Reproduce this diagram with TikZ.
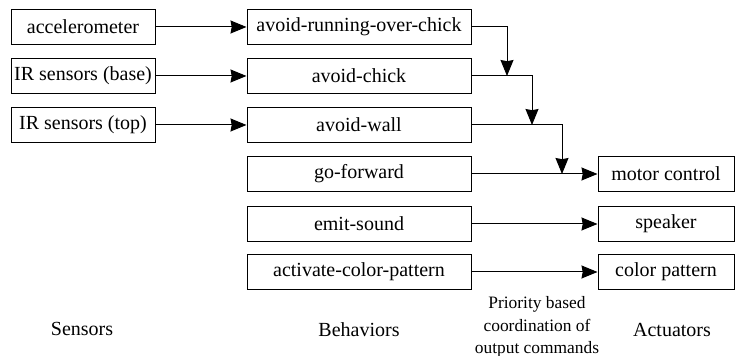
\documentclass[tikz,border=0pt]{standalone}
\usepackage{fontspec}
\setmainfont{Liberation Serif}
\usepackage{tikz}
\usetikzlibrary{arrows.meta}

\begin{document}
\begin{tikzpicture}[x=0.5pt,y=-0.5pt,line width=0.5pt,
  >={Stealth[length=8pt,width=6.5pt,inset=0.6pt]},
  box/.style={draw,inner sep=1pt,minimum height=17.5pt},
  sensorbox/.style={box,minimum width=72pt},
  behavbox/.style={box,minimum width=112pt},
  actbox/.style={box,minimum width=68pt}]
	\useasboundingbox (0,0) rectangle (735,356);
	% sensors
	\node[sensorbox] (acc) at (83,27) {accelerometer};
	\node[sensorbox] (irbase) at (83,76) {IR sensors (base)};
	\node[sensorbox] (irtop) at (83,125) {IR sensors (top)};
	% behaviors
	\node[behavbox] (avoidrun) at (359,27) {avoid-running-over-chick};
	\node[behavbox] (avoidchick) at (359,76) {avoid-chick};
	\node[behavbox] (avoidwall) at (359,125) {avoid-wall};
	\node[behavbox] (goforward) at (359,174) {go-forward};
	\node[behavbox] (emitsound) at (359,224) {emit-sound};
	\node[behavbox] (activate) at (359,272) {activate-color-pattern};
	% actuators
	\node[actbox] (motor) at (666,174) {motor control};
	\node[actbox] (speaker) at (666,224) {speaker};
	\node[actbox] (colorpat) at (666,272) {color pattern};
	% inputs
	\draw[->] (acc) -- (avoidrun);
	\draw[->] (irbase) -- (avoidchick);
	\draw[->] (irtop) -- (avoidwall);
	% priority coordination
	\coordinate (j1) at (507,76);
	\coordinate (j2) at (532,125);
	\coordinate (j3) at (562,174);
	\draw[->] (avoidrun.east) -| (j1);
	\draw[->] (avoidchick.east) -| (j2);
	\draw[->] (avoidwall.east) -| (j3);
	\draw[->] (goforward) -- (motor);
	\draw[->] (emitsound) -- (speaker);
	\draw[->] (activate) -- (colorpat);
	% column labels
	\node (lsens) at (82,329) {Sensors};
	\node (lbeh) at (359,330) {Behaviors};
	\node (lact) at (672,330) {Actuators};
	\node[align=center,font=\fontsize{8.7}{11.25}\selectfont] (lprio) at (537,327) {Priority based\\coordination of\\output commands};
\end{tikzpicture}
\end{document}
